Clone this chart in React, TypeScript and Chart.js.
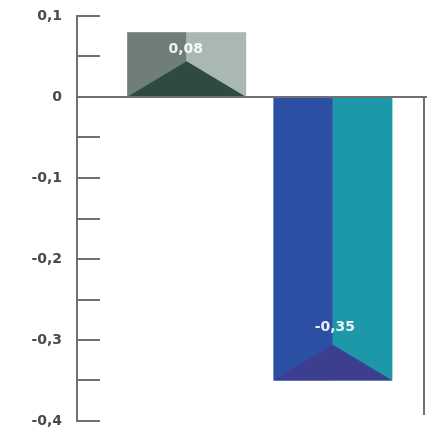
import React, { useEffect, useRef } from "react";
import { Chart, registerables } from "chart.js";

Chart.register(...registerables);

const categories = ["A", "B"];
const positions = [1, 2];
const values = [0.08, -0.35];
const valueLabels = ["0,08", "-0,35"];
const yMin = -0.4;
const yMax = 0.1;
const yStep = 0.05;

const leftColors = ["#6f7e78", "#2b4fa3"];
const rightColors = ["#a9b8b2", "#1d98a8"];
const triangleColors = ["#2f4a40", "#3c3f8f"];

const FONT = "'DejaVu Sans', sans-serif";

const fmt = (v: number) => {
  const r = Math.round(v * 100) / 100;
  if (Math.abs(Math.round(r * 10) - r * 10) > 1e-6) return "";
  if (Math.abs(r) < 1e-9) return "0";
  return r.toFixed(1).replace(".", ",");
};

const decoPlugin = {
  id: "deco",
  afterDatasetsDraw(chart: any) {
    const ctx = chart.ctx;
    const meta = chart.getDatasetMeta(0);
    meta.data.forEach((bar: any, i: number) => {
      const { x, y, base, width } = bar.getProps(["x", "y", "base", "width"], true);
      const left = x - width / 2;
      const right = x + width / 2;
      const top = Math.min(y, base);
      const h = Math.abs(base - y);
      ctx.save();
      ctx.fillStyle = leftColors[i];
      ctx.fillRect(left, top, width / 2, h);
      ctx.fillStyle = rightColors[i];
      ctx.fillRect(x, top, width / 2, h);
      const triH = width * 0.3;
      const apexY = values[i] >= 0 ? base - triH : y - triH;
      const baseY = values[i] >= 0 ? base : y;
      ctx.fillStyle = triangleColors[i];
      ctx.beginPath();
      ctx.moveTo(left, baseY);
      ctx.lineTo(x, apexY);
      ctx.lineTo(right, baseY);
      ctx.closePath();
      ctx.fill();
      ctx.fillStyle = "rgba(255,255,255,0.9)";
      ctx.font = "bold 14px " + FONT;
      ctx.textAlign = "center";
      ctx.textBaseline = "middle";
      const ly = values[i] >= 0 ? apexY - 12 : apexY - 17;
      ctx.fillText(valueLabels[i], x + (values[i] >= 0 ? -1 : 2), ly);
      ctx.restore();
    });

    // axes
    const ys = chart.scales.y;
    const area = chart.chartArea;
    ctx.save();
    ctx.strokeStyle = "#707070";
    ctx.lineWidth = 2;
    ctx.beginPath();
    ctx.moveTo(area.left, ys.getPixelForValue(yMax) - 1);
    ctx.lineTo(area.left, ys.getPixelForValue(yMin) + 1);
    ctx.stroke();
    ctx.fillStyle = "#4a4a4a";
    ctx.font = "bold 14px " + FONT;
    ctx.textAlign = "right";
    ctx.textBaseline = "middle";
    ys.ticks.forEach((t: any) => {
      const py = Math.round(ys.getPixelForValue(t.value));
      ctx.beginPath();
      ctx.moveTo(area.left, py);
      ctx.lineTo(area.left + 23, py);
      ctx.stroke();
      const lab = fmt(t.value);
      if (lab) ctx.fillText(lab, area.left - 15, py);
    });
    const zy = Math.round(ys.getPixelForValue(0));
    ctx.beginPath();
    ctx.moveTo(area.left, zy);
    ctx.lineTo(chart.width, zy);
    ctx.stroke();
    ctx.beginPath();
    ctx.moveTo(area.right - 1, zy);
    ctx.lineTo(area.right - 1, ys.getPixelForValue(yMin) - 6);
    ctx.stroke();
    ctx.restore();
  },
};

export default function App() {
  const ref = useRef<HTMLCanvasElement | null>(null);
  useEffect(() => {
    if (!ref.current) return;
    const chart = new Chart(ref.current, {
      type: "bar",
      data: {
        labels: categories,
        datasets: [
          {
            data: positions.map((p, i) => ({ x: p, y: values[i] })),
            backgroundColor: "rgba(0,0,0,0)",
            barThickness: 119,
          },
        ],
      },
      options: {
        animation: false,
        responsive: false,
        maintainAspectRatio: false,
        layout: { padding: { top: 16, bottom: 11, right: 2, left: 0 } },
        plugins: {
          legend: { display: false },
          tooltip: { enabled: false },
        },
        scales: {
          x: {
            type: "linear",
            min: 0.25,
            max: 2.63,
            offset: false,
            display: false,
          },
          y: {
            min: yMin,
            max: yMax,
            grid: { display: false, drawTicks: false },
            border: { display: false },
            afterFit(scale: any) {
              scale.width = 77;
            },
            ticks: {
              display: false,
              stepSize: yStep,
              autoSkip: false,
              callback: (v: any) => fmt(Number(v)),
            },
          },
        },
      },
      plugins: [decoPlugin],
    } as any);
    return () => chart.destroy();
  }, []);
  return (
    <div style={{ position: "fixed", left: 0, top: 0, width: 427, height: 432, background: "#fff" }}>
      <canvas ref={ref} width={427} height={432} />
    </div>
  );
}
